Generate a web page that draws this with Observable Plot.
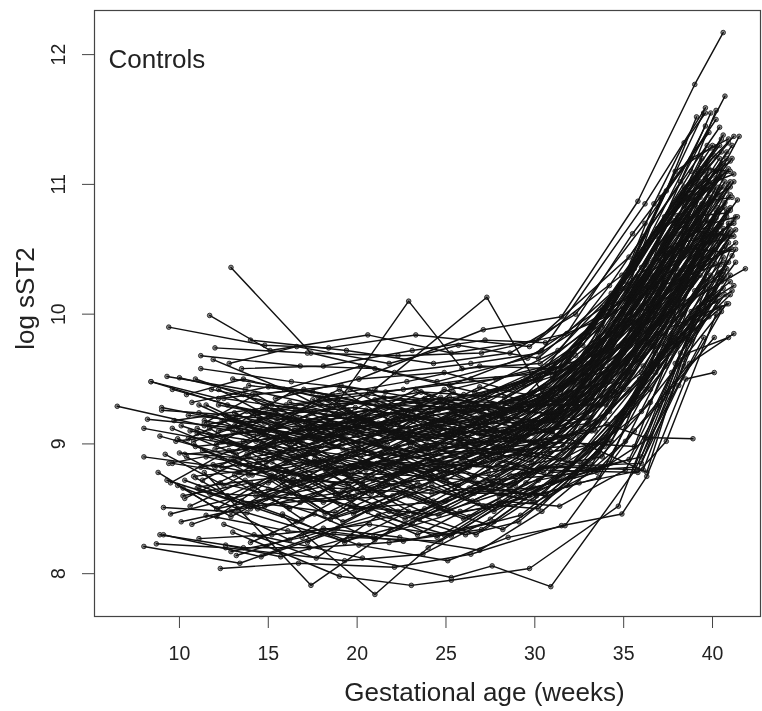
<!DOCTYPE html>
<html><head><meta charset="utf-8">
<script src="https://cdn.jsdelivr.net/npm/d3@7"></script>
<script src="https://cdn.jsdelivr.net/npm/@observablehq/plot@0.6"></script>
<style>html,body{margin:0;padding:0;background:#fff}svg{display:block;filter:blur(0.35px)}</style>
</head><body><div id="chart"></div>
<script>
// Each subject: gestational age, log sST2, age, log sST2, ...
const outlierSubjects = [
[6.5,9.29,11.4,9.14,16.2,9.02,21.3,9.1,26.2,9.05,31.1,9.32,35.8,9.95,39.7,10.72],
[12.9,10.36,17.4,9.7,22.1,9.55,26.4,9.62,30.3,9.7,35.1,10.12,39.4,10.93],
[11.7,9.99,15.1,9.72,20.6,9.84,25.3,9.7,30.1,9.8,35.3,10.44,40.4,11.44],
[9.4,9.9,14.8,9.76,18.4,9.74,23.3,9.84,29.7,9.75,34.9,10.3,40.2,11.29],
[18.9,9.32,22.9,10.1,25.9,9.58,30.3,9.62,35.2,10.08,39.8,11.02],
[21,9.42,27.3,10.13,30.8,9.3,35.4,9.76,40.7,10.86],
[20.1,9.5,27.1,9.88,31.5,9.98,35.8,10.87,39,11.77,40.6,12.17],
[25.2,9.45,30.4,9.72,36.2,10.85,39.6,11.59],
[11.4,8.78,17.4,7.91,21.9,8.34,27.6,8.72,33,9.15,37.1,9.95,40.3,10.78],
[10.3,8.72,15.8,8.45,21,7.84,24,8.2,28.6,8.6,32.5,9.05,36.5,9.55,40.1,10.4],
[13,8.32,19,7.98,23.05,7.91,25.3,7.95,29.7,8.04,34.7,8.52,36.9,9.3,40.6,10.44],
[14.2,8.3,20.3,8.12,25.3,7.97,27.6,8.06,30.9,7.9,35.6,8.79,38.4,9.6,41,10.5],
[12.3,8.04,16.7,8.08,22.1,8.05,26.4,8.15,31.5,8.37,34.9,8.46,36.3,8.75,38.5,9.5,40.1,9.55],
[11,8.66,16.6,8.4,20.1,8.22,25.1,8.1,28.5,8.28,31.7,8.37,35.6,9.1,38.7,9.62,41.2,9.85],
[13,9.1,18.2,8.8,24.4,8.92,30.1,9,34.1,9.15,36.2,9.05,38.9,9.04],
[8,8.21,13.4,8.08,18.9,8.35,23.8,8.5,29,8.84,33.4,9.4,37.2,9.98,41.85,10.35],
];
const lowSubjects = [
[8.9,8.3,13.6,8.2,17.3,8.2,21.8,8.24,27,8.34,31.8,8.8,36,9.25,40.8,10.08],
[8.7,8.23,12.6,8.2,19.3,8.1,23.7,8.15,27.5,8.42,31,8.8,35.3,9.42,39.8,9.98],
[9.1,8.3,14.6,8.13,18.7,8.32,22.6,8.25,27.7,8.4,32.1,8.85,36.7,9.62,40.6,10.2],
[9.1,8.51,13.8,8.47,19.3,8.25,23.1,8.39,26.5,8.62,30.5,8.62,35.5,9.34,39.6,10.27],
[11.1,8.27,15.2,8.3,20.7,8.38,24.9,8.3,29.2,8.45,33.3,8.9,37.4,9.6,40.4,10.32],
[12.6,8.22,15.7,8.13,19.6,8.28,24.7,8.25,28.4,8.55,32.2,8.75,36.5,9.42,40.2,10.15],
[11.5,8.45,16.1,8.33,20.9,8.28,25.8,8.48,30,8.55,34.2,8.85,36.8,9.7,39.9,10.3],
[12.5,8.38,17.7,8.12,21.2,8.45,25.3,8.29,30.2,8.72,34,9.05,37.6,9.8,41.1,10.45],
[13.2,8.14,18.1,8.35,22.4,8.28,26.9,8.18,30.4,8.48,35.1,9.02,38.5,9.93,40.9,10.55],
[12.9,8.17,16.9,8.28,21.8,8.48,26.1,8.3,29.1,8.4,33.6,8.92,37.8,9.82,40.7,10.28],
[9.5,8.46,15,8.65,19.8,8.52,24.6,8.45,29.8,8.76,33.9,9.05,37.5,9.72,40.5,10.05],
[10.1,8.4,14.1,8.52,19.5,8.6,23.5,8.42,28.1,8.62,33.2,9.1,36.6,9.75,39.7,10.22],
[10.7,8.38,14.9,8.58,18.5,8.42,22.9,8.6,27.4,8.78,31.9,8.9,36.1,9.6,40,10.38],
[9.3,8.72,14.4,8.5,18.6,8.66,24.2,8.62,28.8,8.7,32.9,9.22,36.9,9.85,41,10.6],
[11.1,8.67,15.4,8.74,19.9,8.5,25,8.56,29.4,8.78,34.2,9.25,38,10.05,40.9,10.7],
[10.2,8.6,14,8.7,18.1,8.55,23,8.72,27.2,8.85,31.4,9.02,35.9,9.66,39.3,10.3],
[12.1,8.5,16.3,8.62,20.8,8.75,25.5,8.6,29.6,8.92,33.7,9.3,37.1,9.92,40.6,10.66],
[11.7,8.62,17,8.58,21.4,8.68,24.8,8.74,28.9,8.68,32.6,9.12,36.4,9.78,40.1,10.5],
[13.5,8.56,18.8,8.47,22.7,8.82,27.9,8.75,31.3,9.05,35.4,9.55,38.8,10.22,41.3,10.75],
[10.8,8.75,15.6,8.82,20,8.64,24.3,8.85,28.3,8.82,32.7,9.32,36.6,10.02,39.5,10.6],
[12.3,8.7,16.8,8.55,22,8.6,26.3,8.82,30.6,9,34.5,9.4,37.7,10.1,40.8,10.95],
[11.9,8.84,16.4,8.7,21.1,8.85,25.7,8.68,29.9,9.08,33.8,9.48,38.2,10.3,40.3,10.82],
[14.3,8.6,18.3,8.78,23.2,8.66,27.8,8.9,31.6,8.95,35.2,9.52,38.6,10.36,41.4,10.88],
[9.6,8.85,13.9,8.76,19.1,8.9,24.1,8.78,29.3,9.06,33.1,9.2,37,9.96,39.9,10.48],
[10.4,8.9,14.7,8.6,19.7,8.8,23.6,8.96,28,8.92,32.4,9.36,36.3,9.88,40.5,10.7],
];
const midSubjects = [
[8,8.9,12.4,8.82,17.6,8.92,22.3,8.8,26.8,9.02,31.2,9.2,35,9.7,39.1,10.52],
[8.9,9.06,13.1,8.9,16.5,8.76,21.5,8.98,26,8.88,30.7,9.24,34.7,9.75,39.4,10.62],
[8,9.12,12.8,9,17.8,8.85,22.5,9.06,27.3,8.95,31.5,9.28,36,9.92,40.2,10.74],
[8.2,9.19,13.3,9.12,18,8.98,23.4,8.9,28.2,9.1,32.3,9.32,36.4,10.15,40.7,11.02],
[9.8,9.02,14.2,9.1,19,8.82,23.9,9,28.7,9.02,33,9.44,37.3,10.2,40.9,11.12],
[10,8.93,14.5,8.88,19.4,9.04,24.5,8.86,29.5,9.15,33.5,9.5,36.8,10,39.8,10.58],
[10.3,8.92,15.3,8.98,20.2,8.9,25.2,9.08,30,9.12,34.4,9.62,38.1,10.4,41,10.92],
[9.4,8.85,13.7,8.96,17.9,9.08,22.8,8.94,27.6,9.16,32,9.4,36.2,10.08,39.6,10.78],
[10.9,8.98,15.9,9.05,20.5,8.8,25.6,8.98,30.9,9.1,34.9,9.7,38.4,10.48,40.4,10.98],
[11,9.08,16,8.86,21.2,9.08,26.5,9.02,31.1,9.25,35.5,9.88,38.9,10.6,41.2,11.02],
[9,9.28,13.5,9.16,18.6,9.02,23.7,9.15,27.9,9.05,32.8,9.55,36.7,10.25,40,10.88],
[8.4,9.48,12.7,9.3,17.2,9.18,22.2,9.08,26.7,9.2,30.8,9.38,35.7,10.05,39.2,10.8],
[9,9.26,13.2,9.22,16.6,9.1,21.6,9.22,25.8,9.12,30.2,9.32,34.3,9.78,38.6,10.62],
[11.4,9.18,15.5,9.06,19.6,9.18,24.4,9.05,29.2,9.26,33.5,9.65,37.6,10.5,40.6,11.08],
[11.8,9.05,16.7,9.14,21.7,8.96,26.6,9.15,31,9.18,35.8,10,39,10.84,41.1,11.2],
[12.4,9.02,17.1,8.9,22.4,9.12,27.1,9.22,31.7,9.35,36.3,10.3,39.7,10.98],
[13.1,9.14,18.4,9.05,23.3,9.2,28.4,9.08,32.2,9.48,35.6,9.82,39.3,10.7],
[12,8.96,16.9,9.1,20.4,9.14,25.9,9.25,30.5,9.3,34.8,9.92,38.3,10.55,40.3,10.92],
[13.8,8.92,18.7,9.12,22.6,8.92,27.5,9.03,32.5,9.42,36.5,10.12,39.9,10.9],
[14.5,9.2,19.2,8.96,24.6,9.1,29,9.2,33.3,9.6,37.2,10.4,40.6,10.98],
[11.2,8.82,15.7,8.94,20.8,9.02,24.9,9.12,29.7,9.02,34.6,9.6,38.7,10.42,41.2,10.72],
[10.6,9.1,14.3,9.02,18.2,9.15,23,9.02,28.6,9.28,33.1,9.55,37.5,10.35,40.1,10.65],
[10.5,9.22,14.8,9.16,19.3,9.2,24.7,9.28,29.1,9.12,33.9,9.72,37.9,10.62,40.8,11.25],
[12.2,9.3,16.2,9.2,20.7,9.06,25.4,9.2,30.4,9.42,34.1,9.85,38,10.7,40.5,11.15],
[13.6,9.02,17.5,9.24,21.9,9.14,26.2,9.32,31.4,9.22,35.3,9.75,39.1,10.75,41.5,11.37],
[14,9.25,18.9,9.1,23.5,9.3,28.1,9.22,32.6,9.52,36.1,10.22,39.5,10.95],
[11.6,9.15,16.5,9.28,21.3,9.02,26,9.1,30.6,9.38,34.5,9.96,38.5,10.78,41.1,11.3],
[12.7,9.2,17.7,9.02,22.7,9.22,27.7,9.12,31.8,9.46,35.9,10.18,39.2,11],
[15.2,9,20,9.12,24.2,9.22,29.4,9.35,33.7,9.78,37.4,10.58,40.2,11.1],
[15.8,8.75,20.6,8.86,25.1,8.82,30,9,33.2,9.35,36.9,10.1,40,10.6],
[16.4,8.9,20.9,8.72,26.3,8.95,30.3,9.16,34,9.5,37.8,10.26,41,10.82],
[17,8.72,21.7,8.88,26.8,9.08,31.6,9.12,35.1,9.62,38.2,10.18,40.7,10.52],
[15,8.7,19.8,8.94,24,8.8,28.5,9.05,32.4,9.28,36,9.8,39.4,10.44],
[14.9,8.82,19.5,8.68,23.8,8.98,29.2,8.95,33.4,9.42,37,10.05,40.3,10.56],
[13.3,8.78,18,8.88,22.1,8.76,27,8.94,31.2,9.14,35,9.58,38.8,10.34,41.3,10.65],
[12.9,8.88,17.3,8.66,21.4,8.92,26.7,8.84,30.9,9.2,34.4,9.48,38.1,10.12,40.9,10.62],
[11.3,8.95,15.8,8.72,20.3,8.7,25.4,8.92,29,8.94,33,9.26,36.6,9.9,39,10.42],
[10.1,9.14,14.6,8.94,18.8,8.78,24.2,8.75,28.2,8.98,32.1,9.08,35.8,9.78,39.6,10.5],
[9.9,9.04,13.4,8.84,17.4,8.74,22,8.86,27.4,8.82,31.3,9.3,35.4,9.68,38.7,10.28],
[11.5,8.9,16.1,8.78,20.1,8.96,25,8.72,28.8,9,32.9,9.38,37.3,10.02,40.8,10.8],
];
const highSubjects = [
[8.4,9.48,12.2,9.35,17,9.42,21.1,9.3,26.1,9.28,30.1,9.5,34.5,10.02,39.3,11.02],
[9.3,9.52,13.7,9.42,18.5,9.28,23.6,9.4,28.3,9.36,32.2,9.7,36.1,10.5,39.6,11.45],
[10,9.51,14.1,9.38,19.1,9.45,24.8,9.32,29.3,9.48,33.6,9.88,37.1,10.68,39.9,11.55],
[10.9,9.5,15.2,9.3,20.4,9.22,25.3,9.42,30.7,9.6,34.2,10.22,38.2,11.02,40.7,11.68],
[11.2,9.58,16.3,9.48,21.6,9.4,26.4,9.5,31.1,9.55,35.7,10.4,38.8,11.1,40.2,11.57],
[11.2,9.68,16.8,9.6,21,9.58,26.6,9.4,31.3,9.72,35,10.25,39.5,11.55],
[11.9,9.65,15.9,9.42,20.2,9.6,24.5,9.48,29.6,9.66,33.8,10.05,37.7,10.82,40.4,11.3],
[12,9.74,17.2,9.7,22.3,9.68,27,9.7,31.8,9.85,35.5,10.62,39.8,11.4],
[12.8,9.62,16.6,9.75,21.8,9.62,25.7,9.76,30.2,9.66,34.3,10.16,38.4,10.98,41.2,11.37],
[13.5,9.58,18.1,9.6,23.1,9.72,27.2,9.8,30.6,9.78,34,9.98,37.5,10.75,40.5,11.25],
[14,9.8,19.4,9.72,24.3,9.62,28.6,9.7,32.3,10,36.2,10.7,40.2,11.5],
[15.4,9.35,20.1,9.5,24.9,9.55,28.4,9.42,32.7,9.76,36.4,10.56,40.1,11.22],
[13.9,9.45,18.6,9.38,22.8,9.48,26.9,9.6,30.9,9.58,35.1,10.2,38.9,10.88,40.8,11.1],
[12.5,9.35,17.6,9.25,21.5,9.36,26.3,9.24,29.8,9.4,33.2,9.7,37.2,10.65,40.6,11.38],
[10.7,9.32,15,9.44,19.7,9.32,24.1,9.24,28.8,9.45,32.6,9.62,36.7,10.42,39.7,11.15],
[9.6,9.42,14.4,9.24,18.3,9.34,23.2,9.26,27.7,9.3,31.9,9.64,35.2,10.3,38.5,10.9,41,11.18],
[10.4,9.38,13.6,9.5,17.8,9.36,22.6,9.42,27.8,9.5,31.5,9.6,36.8,10.6,40.5,11.05],
[11.8,9.42,16,9.3,20.6,9.38,25.6,9.3,29.5,9.5,34.7,10.08,38.6,10.95,40.9,11.32],
[13,9.5,17.5,9.4,22.5,9.25,27.1,9.38,32,9.68,35.6,10.35,39.3,11.12],
[14.7,9.28,19,9.22,23.4,9.32,28,9.28,33,9.62,36.6,10.4,40.4,11.2],
[15.6,9.15,20.5,9.26,25.5,9.18,30.8,9.44,34.6,9.9,38,10.76,40.6,11.16],
[16.2,9.32,21.2,9.16,26.2,9.3,31,9.52,35.3,10.15,38.3,10.92,41.2,11.08],
[17.3,9.1,22,9.24,26.5,9.16,30.5,9.36,34.9,10,37.9,10.5,40.1,10.95],
[18.4,9.18,23,9.08,28.1,9.24,32,9.56,36,10.36,39.1,11.05],
[14.4,9.08,18.2,9.22,22.9,9.12,27.6,9.3,31.4,9.42,35.5,9.94,39.4,10.85],
[12.2,9.1,17.9,9.3,23.8,9.35,29.9,9.3,33.9,9.8,37.7,10.6,40.3,10.92],
[10.8,9.02,15.1,9.22,19.9,9.28,25.2,9.16,30.3,9.55,34.2,9.72,37.4,10.45,40.7,10.82],
[11.1,9.24,16.6,9.04,21.5,9.3,26.8,9.38,31.7,9.6,35.9,10.46,39.7,11.08],
[9.7,9.18,14.9,9.28,19.6,9.12,24.6,9.26,29.4,9.34,33.4,9.7,36.3,10.28,39.2,10.82,41,10.98],
[12.6,9.22,18.5,9.16,24,9.04,28.9,9.14,33.5,9.68,37.6,10.72,40.5,11.35],
];
const jaggedSubjects = [
[11,9.12,14.2,8.96,17.1,9.14,20.4,8.94,23.3,9.12,26.7,8.98,30.2,9.18,34.4,9.4,38.3,10.5],
[11.3,8.72,13.9,8.9,16.8,8.68,20.2,8.86,24.1,8.72,27.9,8.94,31.6,8.98,35.4,9.82,39.9,10.55],
[11.5,9.3,14.6,9.1,18.3,9.26,21.6,9.04,25.2,9.2,28.5,9.02,32.7,9.46,36.2,9.88,40.2,10.8],
[12,8.82,15.3,9,18.9,8.78,22.2,8.98,25.8,8.8,29.3,9.06,33,9.16,36.8,10.2,40.6,10.4],
[12.4,9.18,15.7,8.94,19.2,9.06,22.5,8.82,26.1,8.98,29.8,8.86,33.6,9.42,37.2,9.95,40.9,10.9],
[12.7,8.6,16,8.8,19.6,8.58,23.1,8.8,26.6,8.62,30.1,8.9,34.1,9.25,37.9,10.3,41.1,10.5],
[13.1,9.24,16.5,9.02,20,9.2,23.7,8.96,27.2,9.14,30.6,8.98,34.7,9.6,38.1,10.1,40.4,10.68],
[13.4,8.78,16.9,9.02,20.5,8.76,24.2,8.98,27.8,8.8,31.2,9.06,35,9.42,38.5,10.25,40.8,10.75],
[13.8,9.08,17.2,8.84,20.9,9.02,24.7,8.78,28.2,8.98,31.7,8.88,35.5,9.55,39,10.15,41,10.7],
[14.1,8.66,17.6,8.88,21.4,8.62,25.1,8.84,28.6,8.66,32.2,8.98,35.9,9.5,39.4,10.35,41.3,10.55],
[14.5,8.98,18,8.74,21.8,8.94,25.6,8.68,29.1,8.92,32.6,8.85,36.2,9.42,39.8,10.15],
[14.8,8.52,18.5,8.76,22.3,8.48,26.2,8.72,29.7,8.6,33.2,8.84,36.6,9.6,40.1,10.1],
[15.2,8.86,18.8,8.6,22.8,8.8,26.5,8.56,30.3,8.82,33.8,8.9,37.2,9.7,40.5,10.25],
[10.2,8.66,13.3,8.5,16.4,8.74,19.8,8.46,23.4,8.7,27.1,8.52,30.9,8.78,35.6,8.82,38.2,9.7,40.7,10.15],
[10.6,8.52,13.7,8.72,16.9,8.42,20.3,8.68,24,8.46,27.6,8.68,30.4,8.82,36,8.85,38.7,9.8,41,10.3],
[10.8,9,14.1,8.76,17.3,8.94,20.8,8.62,24.5,8.82,28,8.6,31,8.7,35.3,8.88,37.7,9.55,40.3,10.25],
[9.5,8.7,12.8,8.95,16.1,8.66,19.4,8.92,22.8,8.7,26.4,8.94,30.2,8.8,35.8,8.78,37.4,9.02,40.2,10],
[9.2,8.92,12.5,8.68,15.6,8.9,19,8.62,22.4,8.86,26,8.62,29.8,8.66,33.5,8.78,36.5,9.05,39.5,9.82],
[8.8,8.78,12.1,8.5,15.2,8.76,18.6,8.44,22,8.66,25.5,8.46,29.4,8.58,32.5,8.7,36.1,8.8,38.6,9.7,40.9,9.82],
[9.6,9.12,13.2,8.92,16.5,9.12,19.9,8.92,23.4,9.2,26.8,8.98,30.5,9.3,34,9.3,37.5,10,40.6,10.32],
[10.5,9.04,13.8,9.25,17,8.98,20.5,9.2,24,8.96,27.4,9.22,31.3,9.16,35,9.95,38.4,10.2,41,10.65],
[11.7,9.12,14.9,8.86,18.4,9.16,21.9,8.96,25.4,9.24,28.9,9,32.8,9.32,36.6,10.3,39.6,10.55],
[12.1,9,15.4,9.24,18.7,8.98,22.1,9.22,25.7,9.02,29.2,9.3,32.9,9.3,36.4,9.95,39.8,10.95],
[12.6,9.22,16.2,9,19.5,9.26,23,9,26.4,9.28,30,9.1,33.5,9.7,37,10.1,40.3,10.6],
[13,8.94,16.6,9.2,20.1,9,23.5,9.28,27,9.06,30.4,9.34,34,9.48,37.4,10.48,40.7,10.58],
[13.3,9.18,17,8.92,20.6,9.2,24,8.94,27.5,9.24,31,9.08,34.6,9.85,38,10.35,40.9,11],
[13.7,8.9,17.4,9.16,20.9,8.92,24.4,9.14,28,8.98,31.5,9.26,35.1,9.8,38.6,10.65,41.2,10.6],
[14.1,9.24,17.8,9.02,21.3,9.22,24.9,8.98,28.4,9.26,32,9.22,35.7,10.1,39,10.5,40.5,10.48],
[14.6,8.98,18.2,9.2,21.7,9,25.3,9.24,28.9,9.06,32.4,9.46,36,9.9,39.3,10.9],
[15.1,9.12,18.8,8.86,22.3,9.1,25.9,8.88,29.4,9.14,32.8,9.2,36.4,10.04,39.8,10.42],
[15.5,8.82,19.1,9.04,22.6,8.8,26.2,9.04,29.7,8.9,33.1,9.3,36.7,9.75,40,10.72],
[15.9,9.04,19.5,8.76,23,8.98,26.6,8.74,30.1,9.02,33.4,9.1,37,9.85,40.4,10.38],
[16.3,8.7,19.9,8.92,23.5,8.66,27,8.9,30.5,8.78,33.9,9.2,37.4,9.75,40.6,10.3],
[16.7,8.92,20.3,8.62,23.9,8.88,27.5,8.64,30.9,8.94,34.3,9.02,37.8,9.98,40.9,10.4],
[17.1,8.58,20.7,8.82,24.3,8.56,27.9,8.84,31.4,8.74,34.8,9.2,38.3,10,41.1,10.62],
[17.5,9.34,21.1,9.14,24.7,9.36,28.3,9.16,31.8,9.46,35.2,9.62,38.7,10.75,40.8,10.78],
[17.9,9.04,21.5,9.3,25,9.06,28.7,9.32,32.1,9.34,35.6,10.2,39.1,10.65,41,11.02],
[18.3,9.36,21.9,9.08,25.4,9.4,29,9.14,32.5,9.62,36,10.05,39.4,11.2],
[18.8,8.44,22.4,8.62,26,8.42,29.5,8.7,33,8.8,36.5,9.32,39.2,10.05,41.2,10.22],
[19.2,8.64,22.7,8.42,26.3,8.66,29.9,8.56,33.4,9,36.8,9.55,39.6,10.5],
[19.6,9.42,23.2,9.18,26.9,9.44,30.4,9.28,33.8,9.72,37.1,10.48,40,10.7],
[20,9.14,23.6,9.4,27.2,9.16,30.7,9.42,34.2,9.6,37.6,10.28,40.4,11.12],
[11.1,9.3,14.7,9.08,18,9.36,21.4,9.12,24.9,9.42,28.3,9.22,31.9,9.7,35.4,10.32,38.9,11.05],
[11.4,9.16,14.3,9.38,17.6,9.12,21,9.34,24.6,9.16,28.1,9.42,32.4,9.6,36.3,10.38,39.7,11.3],
[12.2,9.42,15.5,9.18,19,9.42,22.6,9.12,26,9.38,29.6,9.26,33.3,9.9,36.9,10.66,40,11.3],
[12.8,9.12,16.3,9.4,19.8,9.16,23.3,9.42,26.9,9.24,30.3,9.5,33.9,10,37.3,10.75,40.2,11.05],
[13.6,9.38,17.2,9.12,20.7,9.4,24.3,9.16,27.9,9.42,31.3,9.34,34.9,10.2,38.2,10.55,40.5,10.62],
[14.4,9.08,18.1,9.34,21.6,9.1,25.2,9.36,28.8,9.24,32.3,9.68,35.8,10.08,39.2,10.68],
[10.9,8.74,14,8.5,17.2,8.74,20.6,8.48,24.2,8.68,27.7,8.48,31.1,8.72,34.6,9.12,38,9.9,41.1,10.18],
[10.3,8.58,13.1,8.76,16.2,8.5,19.6,8.74,23.2,8.46,26.9,8.66,30.6,8.6,34,9,37.7,9.78,40.2,10.05],
[9.9,8.68,12.9,8.44,16,8.66,19.2,8.4,22.7,8.62,26.3,8.44,30,8.66,33.7,8.82,37.3,9.35,39.6,10.2],
[12.1,8.44,15.1,8.72,18.2,8.46,21.7,8.7,25.1,8.5,28.6,8.76,32.1,8.85,35.5,9.35,38.8,10.02,41,10.25],
[12.9,8.48,16.2,8.26,19.7,8.52,23.4,8.3,26.8,8.54,30.2,8.5,33.9,8.98,37.6,9.9,40.9,10.08],
[14,8.24,17.6,8.46,21,8.26,24.6,8.5,28.2,8.34,31.8,8.68,35.2,9.22,38.9,9.95,41.3,10.4],
[15.8,8.46,19.3,8.24,22.9,8.48,26.7,8.3,30.1,8.6,33.6,8.74,37,9.6,40.4,10.15],
[17.2,8.24,20.8,8.5,24.5,8.28,28,8.56,31.4,8.52,35.1,8.8,37.5,9.4,40.1,9.82],
[28.2,8.8,31.9,8.82,35.8,8.8,38.1,9.45,40.5,10.02],
[27.3,8.72,31.6,8.76,36,8.9,38,9.6,40.3,10.1],
[29.1,9.02,33.4,9,35.6,8.98,37.6,9.7,41,10.15],
[30.6,9.1,33.1,8.98,36.3,8.78,38.3,9.65,40.8,10.35],
[33.1,9.72,35.1,10.3,37.4,10.95,39.1,11.52],
[34.2,10,36.7,10.85,38.4,11.32,39.6,11.55],
[33.8,9.9,36.1,10.6,37.9,11.1,39.9,11.28],
[35.2,10.18,37.1,10.9,38.8,11.2,40.9,11.35],
[35.6,10.1,37.8,10.72,39.6,11.05,40.8,11.2],
[36.4,10.2,38.2,10.62,39.8,11.12,41,11.1],
[36.9,10.15,38.7,10.5,40.1,10.88,41.1,10.9],
[37.3,9.9,38.9,10.38,40.3,10.62,41.2,10.7],
[37.7,9.72,39,10.18,40.5,10.48,41.1,10.5],
[37.9,9.62,39.4,10.02,40.7,10.36,41.3,10.5],
[34.6,9.2,36.9,9.65,38.4,10.2,40,10.7,41.4,10.75],
[33.6,9.3,36,9.55,37.8,10.02,39.5,10.55,41,10.8],
[35,9.5,37.2,10.12,38.9,10.6,40.2,10.98],
[32.8,9.55,35.2,9.9,37,10.55,38.8,10.75,40.5,11.08],
];
const allSubjects = [...outlierSubjects, ...lowSubjects, ...midSubjects, ...highSubjects, ...jaggedSubjects];
const rows = allSubjects.flatMap((vals, id) =>
  d3.range(0, vals.length, 2).map(i => ({id, age: vals[i], logSST2: vals[i + 1]})));

const xTicks = [10, 15, 20, 25, 30, 35, 40];
const yTicks = [8, 9, 10, 11, 12];
const ink = "#222";
const font = "'Liberation Sans', Arial, sans-serif";

const chart = Plot.plot({
  width: 762, height: 711,
  marginLeft: 94, marginRight: 2, marginTop: 10, marginBottom: 95,
  style: {fontFamily: font, background: "#fff", color: ink},
  x: {domain: [5.22, 42.7]},
  y: {domain: [7.67, 12.34]},
  marks: [
    Plot.dot(rows, {x: "age", y: "logSST2", r: 2.3, fill: "#8a8a8a", stroke: "#222", strokeWidth: 0.9}),
    Plot.line(rows, {x: "age", y: "logSST2", z: "id", stroke: "#111", strokeWidth: 1.45, curve: "linear"}),
    Plot.frame({stroke: "#444", strokeWidth: 1.2}),
    Plot.axisX({ticks: xTicks, tickSize: 12, tickPadding: 18, fontSize: 19.5, stroke: "#444", fill: ink, label: null, tickFormat: "d"}),
    Plot.axisY({ticks: yTicks, tickSize: 12, tickPadding: 18, fontSize: 19.5, stroke: "#444", fill: ink, tickRotate: -90, label: null, tickFormat: "d"}),
    Plot.text(["Gestational age (weeks)"], {frameAnchor: "bottom", dx: 57, dy: 84, fontSize: 26, fill: ink}),
    Plot.text(["log sST2"], {frameAnchor: "left", textAnchor: "middle", dx: -69, dy: -15, rotate: -90, fontSize: 26, fill: ink}),
    Plot.text(["Controls"], {frameAnchor: "top-left", dx: 14, dy: 39, fontSize: 26, fill: ink, textAnchor: "start"})
  ]
});
document.getElementById("chart").append(chart);
</script></body></html>
